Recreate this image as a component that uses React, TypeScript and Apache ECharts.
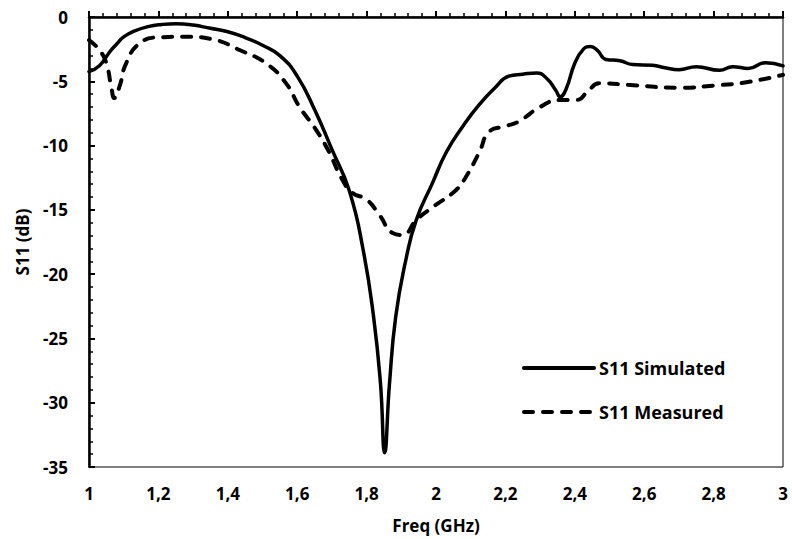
import React, { useEffect, useRef } from "react";
import * as echarts from "echarts";

const simFreq = [1.0, 1.03, 1.06, 1.08, 1.1, 1.13, 1.17, 1.21, 1.25, 1.3, 1.35, 1.4, 1.45, 1.5, 1.55, 1.6, 1.65, 1.7, 1.75, 1.79, 1.82, 1.84, 1.852, 1.866, 1.884, 1.913, 1.943, 1.99, 2.03, 2.08, 2.125, 2.17, 2.21, 2.25, 2.29, 2.32, 2.345, 2.358, 2.375, 2.4, 2.425, 2.445, 2.465, 2.49, 2.53, 2.567, 2.624, 2.66, 2.7, 2.75, 2.817, 2.855, 2.9, 2.95, 3.0];
const simS11 = [-4.25, -3.8, -2.7, -2.1, -1.55, -1.1, -0.75, -0.58, -0.52, -0.62, -0.88, -1.15, -1.6, -2.2, -3.0, -4.6, -7.2, -10.3, -13.5, -18.1, -23.3, -28.5, -33.9, -28.5, -23.3, -18.9, -15.8, -12.9, -10.5, -8.4, -6.8, -5.5, -4.6, -4.45, -4.35, -4.8, -5.7, -6.2, -5.6, -3.6, -2.5, -2.3, -2.6, -3.3, -3.4, -3.7, -3.75, -3.95, -4.1, -3.86, -4.15, -3.86, -4.0, -3.55, -3.8];

const measFreq = [1.0, 1.03, 1.05, 1.064, 1.073, 1.088, 1.107, 1.146, 1.203, 1.28, 1.357, 1.434, 1.51, 1.568, 1.606, 1.65, 1.688, 1.731, 1.76, 1.8, 1.837, 1.875, 1.904, 1.943, 1.99, 2.058, 2.087, 2.125, 2.154, 2.2, 2.24, 2.3, 2.356, 2.405, 2.44, 2.47, 2.56, 2.7, 2.82, 2.89, 3.0];
const measS11 = [-1.8, -2.57, -3.6, -5.4, -6.3, -5.4, -3.6, -2.05, -1.58, -1.53, -1.74, -2.57, -3.6, -5.16, -6.97, -8.6, -10.3, -12.7, -13.7, -14.2, -15.4, -16.8, -16.95, -15.8, -14.8, -13.45, -12.4, -10.5, -8.9, -8.5, -8.1, -7.0, -6.45, -6.45, -5.7, -5.16, -5.29, -5.5, -5.29, -5.1, -4.5];

const seriesNames = ["S11 Simulated", "S11 Measured"];
const xAxisTitle = "Freq (GHz)";
const yAxisTitle = "S11 (dB)";

const FONT = "'Open Sans', sans-serif";

export default function App() {
  const ref = useRef<HTMLDivElement>(null);
  useEffect(() => {
    if (!ref.current) return;
    const chart = echarts.init(ref.current, undefined, { renderer: "svg" });
    const simData = simFreq.map((f, i) => [f, simS11[i]]);
    const measData = measFreq.map((f, i) => [f, measS11[i]]);
    const axisText = { color: "#000", fontFamily: FONT, fontWeight: "bold" as const, fontSize: 17 };
    chart.setOption({
      animation: false,
      backgroundColor: "#fff",
      grid: {
        left: 89,
        right: 9,
        top: 17,
        bottom: 72,
        show: true,
        borderColor: "#000",
        borderWidth: 1,
        containLabel: false,
      },
      legend: {
        orient: "vertical",
        left: 517,
        top: 354,
        itemWidth: 70,
        itemHeight: 14,
        itemGap: 26,
        data: seriesNames,
        itemStyle: { opacity: 0 },
        lineStyle: { width: 4, color: "#000", cap: "round" },
        textStyle: { color: "#000", fontFamily: FONT, fontWeight: "bold", fontSize: 18 },
      },
      xAxis: {
        type: "value",
        min: 1,
        max: 3,
        interval: 0.2,
        name: xAxisTitle,
        nameLocation: "middle",
        nameGap: 50,
        nameTextStyle: axisText,
        axisLine: { show: true, lineStyle: { color: "#000", width: 2.5 } },
        axisTick: { show: true, inside: true, length: 6, lineStyle: { color: "#000", width: 2 } },
        minorTick: { show: true, splitNumber: 5, length: 4, lineStyle: { color: "#000", width: 1.5 } },
        splitLine: { show: false },
        axisLabel: {
          ...axisText,
          margin: 18,
          formatter: (v: number) => String(Math.round(v * 10) / 10).replace(".", ","),
        },
      },
      yAxis: {
        type: "value",
        min: -35,
        max: 0,
        interval: 5,
        name: yAxisTitle,
        nameLocation: "middle",
        nameGap: 58,
        nameTextStyle: axisText,
        axisLine: { show: true, lineStyle: { color: "#000", width: 2.5 } },
        axisTick: { show: true, inside: true, length: 6, lineStyle: { color: "#000", width: 2 } },
        minorTick: { show: true, splitNumber: 5, length: 4, lineStyle: { color: "#000", width: 1.5 } },
        splitLine: { show: false },
        axisLabel: { ...axisText, margin: 21 },
      },
      series: [
        {
          name: seriesNames[0],
          type: "line",
          data: simData,
          smooth: 0.5,
          showSymbol: false,
          symbol: "none",
          lineStyle: { color: "#000", width: 3.5, cap: "round", join: "round" },
          itemStyle: { color: "#000" },
        },
        {
          name: seriesNames[1],
          type: "line",
          data: measData,
          smooth: 0.5,
          showSymbol: false,
          symbol: "none",
          lineStyle: { color: "#000", width: 4, type: [9, 10], cap: "round", join: "round" },
          itemStyle: { color: "#000" },
        },
      ],
    });
    return () => chart.dispose();
  }, []);
  return <div ref={ref} style={{ width: 792, height: 539, position: "absolute", left: 0, top: 0 }} />;
}
